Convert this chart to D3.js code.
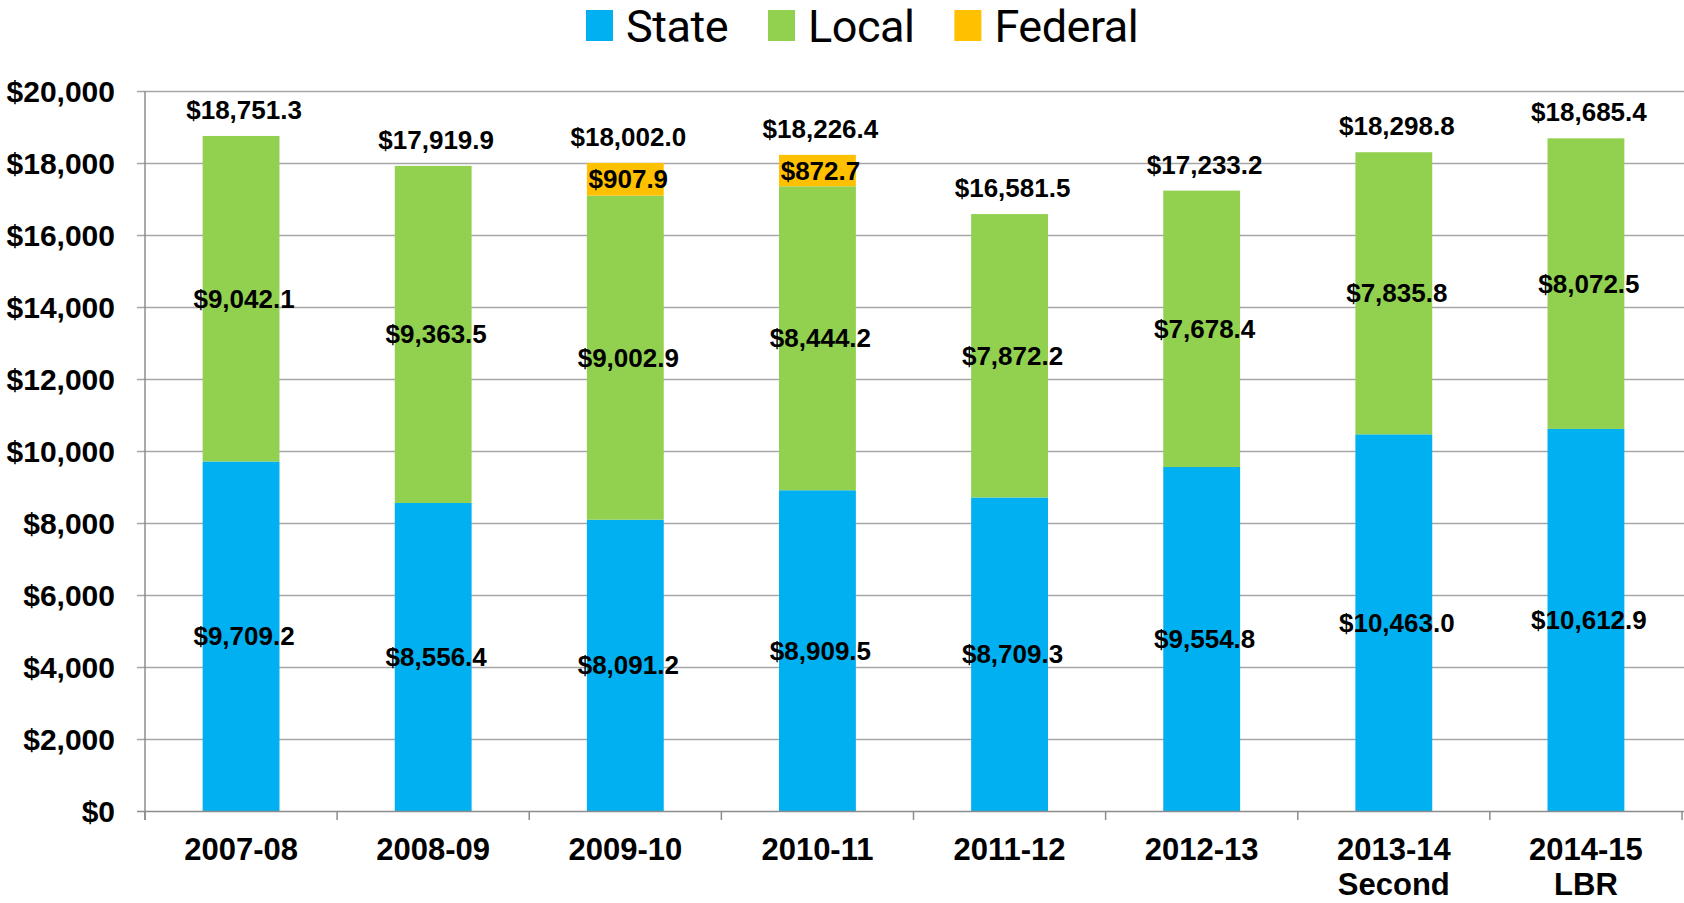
<!DOCTYPE html>
<html>
<head>
<meta charset="utf-8">
<script src="https://cdn.jsdelivr.net/npm/d3@7"></script>
<style>
  html, body { margin: 0; padding: 0; background: #fff; }
  svg { display: block; }
</style>
</head>
<body>
<svg id="chart" width="1684" height="903"></svg>
<script>
const categories = ["2007-08", "2008-09", "2009-10", "2010-11", "2011-12", "2012-13", "2013-14\nSecond", "2014-15\nLBR"];
const stateValues   = [9709.2, 8556.4, 8091.2, 8909.5, 8709.3, 9554.8, 10463.0, 10612.9];
const localValues   = [9042.1, 9363.5, 9002.9, 8444.2, 7872.2, 7678.4, 7835.8, 8072.5];
const federalValues = [0, 0, 907.9, 872.7, 0, 0, 0, 0];
const totalValues   = [18751.3, 17919.9, 18002.0, 18226.4, 16581.5, 17233.2, 18298.8, 18685.4];
const yTicks = [0, 2000, 4000, 6000, 8000, 10000, 12000, 14000, 16000, 18000, 20000];
const seriesNames = ["State", "Local", "Federal"];
const seriesColors = ["#00B0F0", "#92D050", "#FFC000"];

(function() {
const svg = d3.select("#chart");
const pLeft = 145, pRight = 1682, pTop = 91, pBottom = 811;

const x = d3.scaleBand().domain(d3.range(categories.length)).range([pLeft, pRight])
  .paddingInner(0.6).paddingOuter(0.3);
const y = d3.scaleLinear().domain([0, 20000]).range([pBottom, pTop]);

const fmt = v => "$" + d3.format(",.1f")(v);
const fmtAxis = v => "$" + d3.format(",")(v);

// gridlines
svg.append("g").selectAll("line").data(yTicks.filter(t => t > 0)).join("line")
  .attr("x1", pLeft - 8).attr("x2", 1684)
  .attr("y1", d => Math.round(y(d)) + 0.5).attr("y2", d => Math.round(y(d)) + 0.5)
  .attr("stroke", "#a6a6a6").attr("stroke-width", 1.5);

// y tick labels
svg.append("g").selectAll("text").data(yTicks).join("text")
  .attr("x", 115).attr("y", d => y(d) + 11)
  .attr("text-anchor", "end")
  .attr("font-family", "Liberation Sans, Arial, sans-serif")
  .attr("font-weight", "bold").attr("font-size", 30)
  .attr("fill", "#000")
  .text(fmtAxis);

// stacked data
const rows = categories.map((c, i) => ({ i, State: stateValues[i], Local: localValues[i], Federal: federalValues[i] }));
const stack = d3.stack().keys(seriesNames)(rows);

const gBars = svg.append("g");
stack.forEach((layer, li) => {
  gBars.append("g").selectAll("rect").data(layer.filter(d => d[1] - d[0] > 0)).join("rect")
    .attr("x", d => x(d.data.i))
    .attr("width", x.bandwidth())
    .attr("y", d => y(d[1]))
    .attr("height", d => y(d[0]) - y(d[1]))
    .attr("fill", seriesColors[li]);
});

// axes lines
svg.append("line").attr("x1", pLeft).attr("x2", pLeft).attr("y1", pTop).attr("y2", pBottom + 9)
  .attr("stroke", "#8c8c8c").attr("stroke-width", 1.5);
svg.append("line").attr("x1", pLeft - 8).attr("x2", 1684).attr("y1", pBottom + 0.5).attr("y2", pBottom + 0.5)
  .attr("stroke", "#8c8c8c").attr("stroke-width", 1.5);
// category boundary ticks
const boundaries = d3.range(categories.length + 1).map(k => pLeft + k * x.step());
svg.append("g").selectAll("line").data(boundaries).join("line")
  .attr("x1", d => d).attr("x2", d => d)
  .attr("y1", pBottom).attr("y2", pBottom + 9)
  .attr("stroke", "#8c8c8c").attr("stroke-width", 1.5);

// segment labels
const labelFont = "Liberation Sans, Arial, sans-serif";
stack.forEach((layer, li) => {
  svg.append("g").selectAll("text").data(layer.filter(d => d[1] - d[0] > 0)).join("text")
    .attr("x", d => x(d.data.i) + x.bandwidth() / 2 + 3)
    .attr("y", d => (y(d[0]) + y(d[1])) / 2 + 9)
    .attr("text-anchor", "middle")
    .attr("font-family", labelFont).attr("font-weight", "bold").attr("font-size", 26)
    .attr("fill", "#000")
    .text(d => fmt(d[1] - d[0]));
});

// totals
svg.append("g").selectAll("text").data(totalValues).join("text")
  .attr("x", (d, i) => x(i) + x.bandwidth() / 2 + 3)
  .attr("y", d => y(d) - 17)
  .attr("text-anchor", "middle")
  .attr("font-family", labelFont).attr("font-weight", "bold").attr("font-size", 26)
  .attr("fill", "#000")
  .text(fmt);

// x labels
const xl = svg.append("g").selectAll("text").data(categories).join("text")
  .attr("x", (d, i) => x(i) + x.bandwidth() / 2)
  .attr("y", 860)
  .attr("text-anchor", "middle")
  .attr("font-family", labelFont).attr("font-weight", "bold").attr("font-size", 31)
  .attr("fill", "#000");
xl.each(function(d) {
  const lines = d.split("\n");
  const t = d3.select(this);
  lines.forEach((ln, k) => {
    t.append("tspan").attr("x", t.attr("x")).attr("dy", k === 0 ? 0 : 35).text(ln);
  });
});

// legend
const lg = svg.append("g");
let lx = 586;
seriesNames.forEach((name, i) => {
  lg.append("rect").attr("x", lx).attr("y", 10).attr("width", 27).attr("height", 31).attr("fill", seriesColors[i]);
  const t = lg.append("text").attr("x", lx + 40).attr("y", 42)
    .attr("font-family", "Roboto, sans-serif")
    .attr("letter-spacing", -0.5)
    .attr("font-size", 45).attr("fill", "#000").text(name);
  lx = lx + 40 + t.node().getComputedTextLength() + 40;
});
})();
</script>
</body>
</html>
